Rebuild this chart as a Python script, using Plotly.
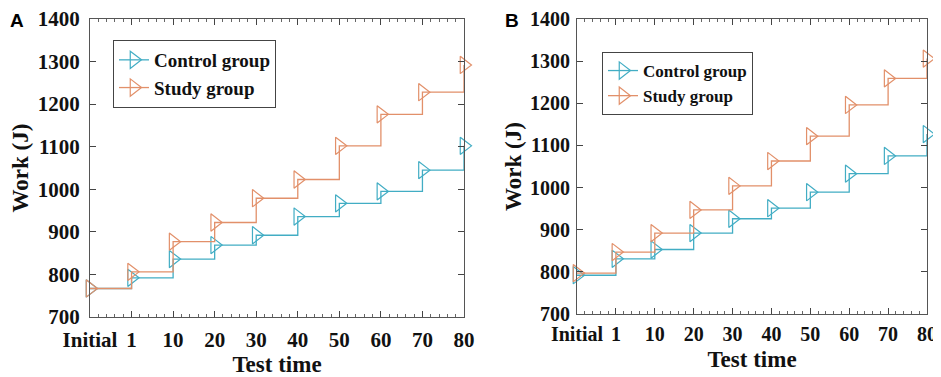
import plotly.graph_objects as go

categories = ["Initial", "1", "10", "20", "30", "40", "50", "60", "70", "80"]
control_a = [767, 792, 836, 869, 892, 936, 967, 995, 1045, 1102]
study_a = [767, 806, 877, 922, 979, 1023, 1102, 1176, 1228, 1292]
control_b = [792, 831, 853, 892, 926, 951, 989, 1033, 1075, 1127]
study_b = [797, 847, 892, 947, 1004, 1063, 1122, 1196, 1259, 1306]
yticks = [700, 800, 900, 1000, 1100, 1200, 1300, 1400]

C_CTRL = "#42adc4"
C_STUDY = "#e2906a"
FONT = "Liberation Serif"
xpos = list(range(len(categories)))

# page body has an 8px margin: size the figure to fit the window
OFF = 8
W, H = 941 - OFF, 377 - OFF
def fx(px):
    return (px - OFF) / W
def fy(py):
    return 1 - (py - OFF) / H

fig = go.Figure()

def add(x, y, name, color, xa, ya, legend):
    fig.add_trace(go.Scatter(
        x=x, y=y, name=f"<b>{name}</b>", mode="lines+markers", line=dict(shape="hv", color=color, width=1.3),
        marker=dict(symbol="triangle-right-open", size=15, color=color, line=dict(width=1.2, color=color)),
        xaxis=xa, yaxis=ya, legend=legend, showlegend=True, cliponaxis=False))

add(xpos, control_a, "Control group", C_CTRL, "x", "y", "legend")
add(xpos, study_a, "Study group", C_STUDY, "x", "y", "legend")
add(xpos, control_b, "Control group", C_CTRL, "x2", "y2", "legend2")
add(xpos, study_b, "Study group", C_STUDY, "x2", "y2", "legend2")

def xaxis(domain, size, anchor, lab_off, title_off):
    return dict(domain=domain, anchor=anchor, range=[0, 9], tickvals=xpos,
                ticktext=[f"<b>{c}</b>" for c in categories], automargin=False,
                ticks="inside", ticklen=6, tickcolor="#444", mirror="ticks", showline=True,
                linecolor="#555", linewidth=1, showgrid=False, zeroline=False, ticklabelstandoff=lab_off,
                ticklabeloverflow="allow",
                minor=dict(dtick=0.2, tick0=0, ticks="inside", ticklen=3, tickcolor="#666", showgrid=False),
                tickfont=dict(family=FONT, size=size, color="#111"),
                title=dict(text="<b>Test time</b>", font=dict(family=FONT, size=23, color="#111"),
                           standoff=title_off))

def yaxis(domain, size, anchor, lab_off, title_off):
    return dict(domain=domain, anchor=anchor, range=[700, 1400], tickvals=yticks,
                ticktext=[f"<b>{v}</b>" for v in yticks], automargin=False,
                ticks="inside", ticklen=6, tickcolor="#444", mirror="ticks", showline=True,
                linecolor="#555", linewidth=1, showgrid=False, zeroline=False, ticklabelstandoff=lab_off,
                ticklabeloverflow="allow",
                tickfont=dict(family=FONT, size=size, color="#111"),
                title=dict(text="<b>Work (J)</b>", font=dict(family=FONT, size=23, color="#111"),
                           standoff=title_off))

fig.update_layout(
    width=W, height=H, margin=dict(l=0, r=0, t=0, b=0),
    paper_bgcolor="white", plot_bgcolor="white",
    xaxis=xaxis([fx(90), fx(464)], 21, "y", 4, 10),
    yaxis=yaxis([fy(317), fy(19)], 21, "x", 5, 10),
    xaxis2=xaxis([fx(577), fx(927)], 20, "y2", 2, 6),
    yaxis2=yaxis([fy(314), fy(19)], 20, "x2", 2, 1),
    legend=dict(x=fx(113), y=fy(40), xanchor="left", yanchor="top", bordercolor="#444", borderwidth=1,
                bgcolor="white", font=dict(family=FONT, size=19, color="#111"), tracegroupgap=0,
                itemwidth=30, entrywidth=127, entrywidthmode="pixels"),
    legend2=dict(x=fx(602), y=fy(52), xanchor="left", yanchor="top", bordercolor="#444", borderwidth=1,
                 bgcolor="white", font=dict(family=FONT, size=17, color="#111"), tracegroupgap=0,
                 itemwidth=30, entrywidth=115, entrywidthmode="pixels"),
    showlegend=True,
)

fig.add_annotation(text="<b>A</b>", x=0, y=1, xref="paper", yref="paper", xanchor="left",
                   yanchor="top", showarrow=False, font=dict(family="Liberation Sans", size=19, color="black"))
fig.add_annotation(text="<b>B</b>", x=fx(503), y=1, xref="paper", yref="paper", xanchor="left",
                   yanchor="top", showarrow=False, font=dict(family="Liberation Sans", size=19, color="black"))

fig.write_html("out.html")
